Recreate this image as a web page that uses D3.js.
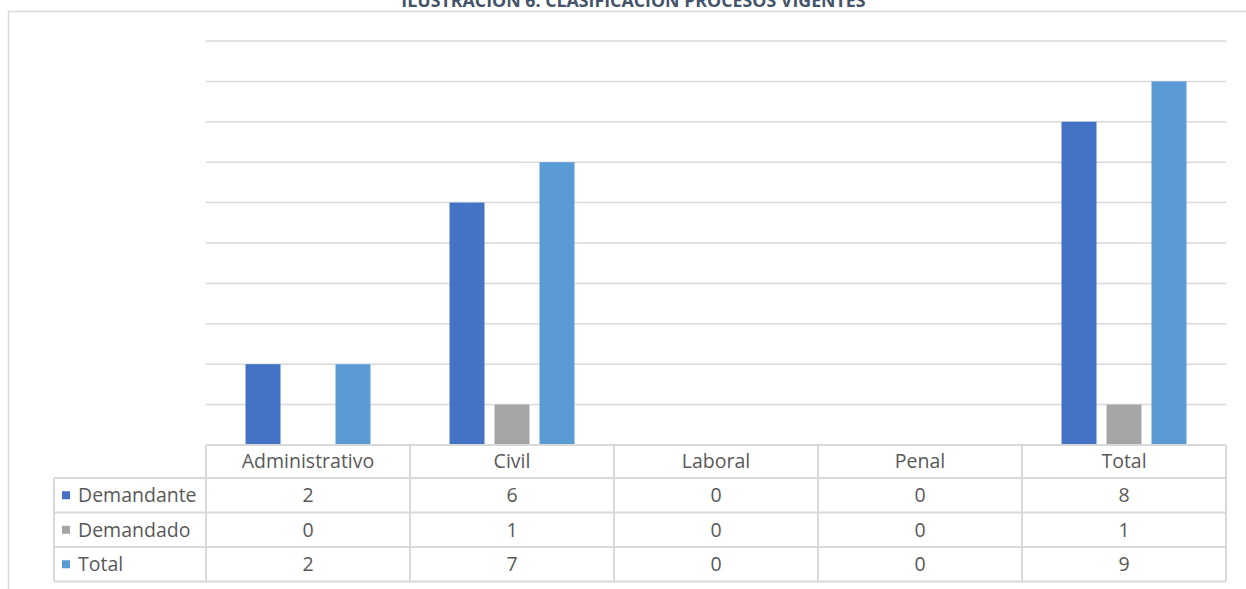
<!DOCTYPE html>
<html><head><meta charset="utf-8">
<script src="https://cdn.jsdelivr.net/npm/d3@7"></script>
<style>
html,body{margin:0;padding:0;background:#fff;overflow:hidden}
text{font-family:"Open Sans","Noto Sans",sans-serif}
</style></head>
<body><svg id="c" width="1246" height="589"></svg>
<script>
const title = "ILUSTRACIÓN 6: CLASIFICACIÓN PROCESOS VIGENTES";
const categories = ["Administrativo","Civil","Laboral","Penal","Total"];
const seriesNames = ["Demandante","Demandado","Total"];
const demandante = [2,6,0,0,8];
const demandado = [0,1,0,0,1];
const total = [2,7,0,0,9];
const colors = ["#4472C4","#A5A5A5","#5B9BD5"];
const yTicks = [0,1,2,3,4,5,6,7,8,9,10];
const seriesValues = [demandante, demandado, total];

const svg = d3.select("#c");
const W = 1246, H = 589;
const plot = {left:206, right:1226, top:41, bottom:445};
const rowH = [33, 34.5, 34.5, 34.5];
const tableLeft = 54;

// outer border
svg.append("path").attr("d", `M8.5,${H+2}V11.5H${W+2}`).attr("fill","none").attr("stroke","#D9D9D9").attr("stroke-width",1.5);

// title
svg.append("text").attr("x",633.5).attr("y",6.5).attr("text-anchor","middle")
  .attr("font-weight","bold").attr("font-size",17.8).attr("fill","#44546A").text(title);

const x = d3.scaleBand().domain(categories).range([plot.left, plot.right]).padding(0);
const xi = d3.scaleBand().domain(seriesNames).range([39.5, 164.5]).paddingInner(10/45).paddingOuter(0);
const y = d3.scaleLinear().domain([0,10]).range([plot.bottom, plot.top]);

// gridlines
svg.append("g").selectAll("line").data(yTicks.filter(d=>d>0)).join("line")
  .attr("x1",plot.left).attr("x2",plot.right)
  .attr("y1",d=>y(d)).attr("y2",d=>y(d))
  .attr("stroke","#D9D9D9").attr("stroke-width",1.5);

// bars
seriesNames.forEach((s,si)=>{
  svg.append("g").selectAll("rect").data(categories.map((c,i)=>({c,v:seriesValues[si][i]}))).join("rect")
    .attr("x",d=>x(d.c)+xi(s)).attr("width",xi.bandwidth())
    .attr("y",d=>y(d.v)).attr("height",d=>y(0)-y(d.v))
    .attr("fill",colors[si]);
});

// data table
const rowY = [plot.bottom];
rowH.forEach((h,i)=>rowY.push(rowY[i]+h));
const tg = svg.append("g");
const lineC = "#D9D9D9", lw = 2;
tg.append("line").attr("x1",plot.left).attr("x2",plot.right).attr("y1",rowY[0]).attr("y2",rowY[0]).attr("stroke",lineC).attr("stroke-width",lw);
for(let i=1;i<rowY.length;i++){
  tg.append("line").attr("x1",tableLeft).attr("x2",plot.right).attr("y1",rowY[i]).attr("y2",rowY[i]).attr("stroke",lineC).attr("stroke-width",lw);
}
tg.append("line").attr("x1",tableLeft).attr("x2",tableLeft).attr("y1",rowY[1]).attr("y2",rowY[4]).attr("stroke",lineC).attr("stroke-width",lw);
categories.forEach(c=>{
  tg.append("line").attr("x1",x(c)).attr("x2",x(c)).attr("y1",rowY[0]).attr("y2",rowY[4]).attr("stroke",lineC).attr("stroke-width",lw);
});
tg.append("line").attr("x1",plot.right).attr("x2",plot.right).attr("y1",rowY[0]).attr("y2",rowY[4]).attr("stroke",lineC).attr("stroke-width",lw);

const fs = 19.5, tc = "#595959";
tg.selectAll("text.h").data(categories).join("text").attr("class","h")
  .attr("x",c=>x(c)+x.bandwidth()/2).attr("y",(rowY[0]+rowY[1])/2).attr("dy","0.35em")
  .attr("text-anchor","middle").attr("font-size",fs).attr("fill",tc).text(d=>d);
seriesNames.forEach((s,si)=>{
  const cy = (rowY[si+1]+rowY[si+2])/2;
  tg.append("rect").attr("x",62).attr("y",cy-4).attr("width",8).attr("height",8).attr("fill",colors[si]);
  tg.append("text").attr("x",78).attr("y",cy).attr("dy","0.35em").attr("font-size",fs).attr("fill",tc).text(s);
  tg.selectAll(null).data(categories.map((c,i)=>({c,v:seriesValues[si][i]}))).join("text")
    .attr("x",d=>x(d.c)+x.bandwidth()/2).attr("y",cy).attr("dy","0.35em")
    .attr("text-anchor","middle").attr("font-size",fs).attr("fill",tc).text(d=>d.v);
});
</script></body></html>
